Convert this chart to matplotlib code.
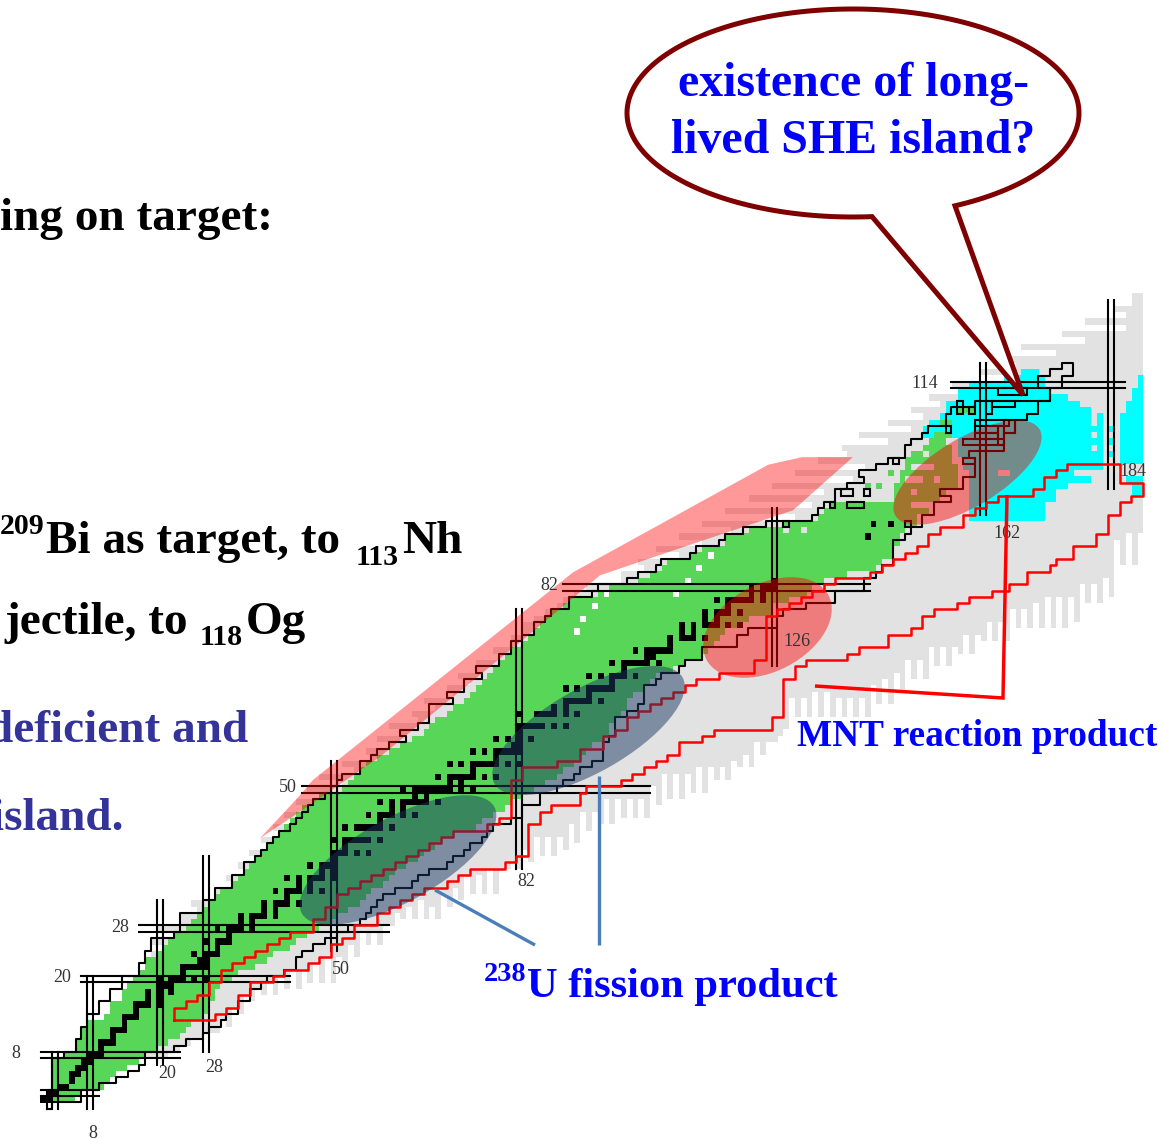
import numpy as np
import matplotlib
matplotlib.use("Agg")
import matplotlib.pyplot as plt
from matplotlib.colors import ListedColormap
from matplotlib.patches import Ellipse, Polygon, Rectangle

# ---------- nuclear chart data (N = neutrons, Z = protons) ----------
contour_left = [0.5,0.5,0.5,1.5,1.5,1.5,1.5,1.5,3.5,5.5,
 5.5,6.5,6.5,7.5,7.5,9.5,9.5,11.5,11.5,13.5,
 13.5,16.5,16.5,17.5,17.5,18.5,18.5,22.5,23.5,23.5,
 23.5,27.5,27.5,29.5,29.5,32.5,32.5,34.5,34.5,36.5,
 37.5,38.5,39.5,40.5,42.5,43.5,44.5,45.5,46.5,48.5,
 49.5,50.5,51.5,54.5,54.5,56.5,57.5,59.5,62.5,61.5,
 64.5,66.5,66.5,66.5,70.5,69.5,72.5,72.5,75.5,74.5,
 78.5,78.5,80.5,80.5,82.5,84.5,84.5,86.5,87.5,90.5,
 90.5,94.5,95.5,100.5,102.5,105.5,106.5,111.5,112.5,116.5,
 117.5,120.5,124.5,132.5,133.5,134.5,136.5,136.5,138.5,141.5,
 140.5,143.5,145.5,148.5,148.5,149.5,151.5,152.5,155.5,155.5,
 156.5,160.5,173.5,173.5,171.5,171.5,173.5,175.5]
contour_right = [1.5,6.5,6.5,9.5,12.5,14.5,16.5,17.5,17.5,22.5,
 24.5,27.5,28.5,30.5,31.5,33.5,33.5,35.5,35.5,37.5,
 38.5,41.5,43.5,43.5,44.5,46.5,48.5,50.5,52.5,54.5,
 55.5,56.5,57.5,58.5,60.5,63.5,64.5,66.5,69.5,70.5,
 72.5,73.5,75.5,76.5,77.5,80.5,82.5,82.5,85.5,85.5,
 88.5,89.5,91.5,92.5,94.5,96.5,96.5,96.5,97.5,98.5,
 98.5,98.5,100.5,102.5,103.5,103.5,103.5,105.5,106.5,109.5,
 110.5,113.5,113.5,119.5,119.5,121.5,126.5,126.5,127.5,131.5,
 136.5,136.5,141.5,141.5,143.5,144.5,146.5,146.5,146.5,146.5,
 148.5,149.5,151.5,151.5,153.5,153.5,156.5,154.5,158.5,158.5,
 160.5,160.5,160.5,159.5,165.5,165.5,165.5,167.5,167.5,169.5,
 171.5,171.5,173.5,173.5,175.5,175.5,177.5,177.5]
contour_z_start = 0

# red contour, rows Z = 14 .. 101
red_left = [22.5,22.5,24.5,26.5,28.5,28.5,30.5,30.5,32.5,34.5,
 36.5,38.5,40.5,42.5,46.5,46.5,48.5,48.5,50.5,50.5,
 52.5,54.5,56.5,58.5,60.5,62.5,64.5,66.5,68.5,70.5,
 76.5,78.5,80.5,80.5,80.5,80.5,80.5,80.5,82.5,82.5,
 88.5,92.5,92.5,96.5,96.5,98.5,100.5,100.5,102.5,104.5,
 106.5,108.5,110.5,112.5,116.5,122.5,122.5,124.5,124.5,124.5,
 124.5,124.5,124.5,124.5,126.5,128.5,130.5,132.5,134.5,136.5,
 142.5,144.5,146.5,148.5,150.5,152.5,152.5,154.5,158.5,158.5,
 160.5,162.5,164.5,170.5,172.5,172.5,174.5,176.5]
red_right = [29.5,31.5,33.5,33.5,35.5,35.5,39.5,41.5,45.5,47.5,
 49.5,49.5,51.5,53.5,53.5,57.5,57.5,59.5,61.5,63.5,
 65.5,69.5,71.5,73.5,79.5,81.5,83.5,83.5,83.5,83.5,
 83.5,85.5,85.5,87.5,92.5,92.5,93.5,99.5,101.5,103.5,
 105.5,107.5,109.5,109.5,113.5,115.5,125.5,125.5,127.5,127.5,
 127.5,127.5,127.5,127.5,129.5,129.5,131.5,138.5,140.5,145.5,
 145.5,149.5,151.5,151.5,153.5,157.5,159.5,163.5,166.5,169.5,
 169.5,173.5,174.5,177.5,177.5,181.5,181.5,183.5,183.5,183.5,
 185.5,185.5,187.5,189.5,189.5,185.5,185.5,185.5]
red_z_start = 14

# closed small loops of the black contour: N0, Z0, N1, Z1
loops_N0 = [164.5,157.5,159.5,162.5,163.5,158.5,160.5,160.5,160.5,158.5,164.5,165.5,127.5,137.5,138.5,141.5,135.5,146.5,155.5,148.5]
loops_Z0 = [112.5,109.5,109.5,109.5,110.5,104.5,107.5,106.5,105.5,101.5,104.5,106.5,91.5,96.5,94.5,96.5,94.5,101.5,106.5,91.5]
loops_N1 = [169.5,158.5,160.5,163.5,167.5,165.5,166.5,164.5,164.5,160.5,165.5,167.5,128.5,139.5,141.5,142.5,136.5,147.5,156.5,149.5]
loops_Z1 = [113.5,111.5,110.5,111.5,111.5,105.5,108.5,107.5,106.5,102.5,107.5,108.5,92.5,97.5,95.5,97.5,95.5,102.5,107.5,92.5]

# green band: first and last neutron number in rows Z = 1 .. 105
green_first = [1,1,2,2,2,2,2,4,6,6,
 7,7,8,11,12,12,14,14,15,16,
 17,18,18,20,21,22,23,25,26,27,
 28,29,30,31,33,34,35,36,37,38,
 39,40,41,42,43,44,45,47,48,52,
 53,54,55,56,58,60,62,64,66,67,
 68,70,71,73,74,75,76,77,78,79,
 80,81,83,84,85,86,87,88,90,91,
 96,98,103,105,107,108,112,114,118,118,
 122,128,134,135,136,147,147,147,148,148,
 149,149,150,152,153]
green_last = [5,6,10,11,12,14,16,17,19,21,
 23,24,25,27,28,28,29,29,30,32,
 33,36,38,39,42,43,45,47,49,50,
 52,54,55,56,58,59,60,62,64,65,
 67,68,70,74,75,77,79,80,82,84,
 86,88,89,91,92,93,94,96,97,97,
 98,99,100,100,101,103,104,105,108,110,
 113,114,115,116,117,119,121,125,125,128,
 131,132,134,138,143,144,146,146,147,147,
 148,150,150,152,153,154,155,157,157,157,
 157,156,156,156,155]
green_extra_N = [146,144,142,154,155,156,155,156,158,159,160,139,140]
green_extra_Z = [100,98,98,106,106,106,108,108,110,110,110,95,95]
green_holes_N = [150,151,152,153,149,150,151,150,150,151,152,153,97,109,95,93,92,115,113,111,131,128,152,154]
green_holes_Z = [101,101,101,101,99,99,99,97,95,95,95,95,81,81,79,77,75,87,85,83,91,91,103,99]

# cyan region: rows Z = 93 .. 116
cyan_first = [160,160,160,160,160,160,160,160,159,159,158,158,158,152,152,153,155,156,156,158,158,160,166,169]
cyan_last = [172,172,172,174,174,176,180,177,182,182,182,182,182,182,182,182,182,180,178,176,173,172,172,171]
cyan_block_first = [186,186,186,186,186,186,186,186,187,187,188,188,189,189]
cyan_block_z_start = 102
cyan_extra_N = [187,188,189,188,189,188,189,184,184,184,139]
cyan_extra_Z = [99,99,99,98,98,97,97,107,105,103,93]
gray_holes_N = [181,181,181,181,165,166]
gray_holes_Z = [109,108,106,104,100,100]

# gray nuclides: first N in rows Z = 24 .. 128; bottom Z in columns
gray_first = [19,22,19,23,20,24,24,27,26,30,
 30,33,32,35,34,37,36,39,38,41,
 40,43,42,45,44,48,46,52,48,54,
 52,57,56,60,58,62,60,65,64,68,
 66,71,70,74,72,75,75,79,78,81,
 81,83,83,85,87,89,90,92,94,100,
 100,104,103,110,106,114,110,119,114,130,
 118,133,122,135,126,140,130,142,134,139,
 138,146,141,150,146,152,150,155,153,165,
 157,168,162,168,165,175,169,180,176,187,
 180,187,185,188,188]
gray_bottom_even_N = [32,34,36,38,40,42,44,46,48,50,52,54,56,58,60,62,64,66,68,70,72,74,76,78,80,82,84,86,88,90,92,94,96,98,100,102,104,106,108,110,112,114,116,118,120,122,124,126,128,130,132,134,136,138,140,142,144,146,148,150,152,154,156,158,160,162,164,166,168,170,172,174,176,178,180,182,184,186,188]
gray_bottom_even_Z = [13,15,17,18,18,19,19,20,20,20,23,24,26,26,29,30,30,30,30,32,33,34,34,34,38,38,39,40,40,41,42,44,45,45,46,46,46,48,49,49,50,50,52,52,54,54,56,58,60,62,62,62,62,62,62,62,64,64,66,68,68,70,70,72,72,74,74,74,76,76,76,76,76,77,80,80,81,86,86]
gray_bottom_odd_N = [31,33,35,37,39,41,43,45,47,49,51,53,55,57,59,61,63,65,67,69,71,73,75,77,79,81,83,85,87,89,91,93,95,97,99,101,103,105,107,109,111,113,115,117,119,121,123,125,127,129,131,133,135,137,139,141,143,145,147,149,151,153,155,157,159,161,163,165,167,169,171,173,175,177,179,181,183,185,187,189]
gray_bottom_odd_Z = [14,16,18,19,20,21,22,22,23,24,24,26,28,28,29,31,32,33,32,34,35,37,37,38,38,39,41,43,43,43,45,47,47,49,49,49,49,51,53,53,53,54,54,54,55,56,58,58,59,65,65,66,66,65,65,65,67,68,69,71,71,73,73,73,75,75,77,77,79,79,80,81,81,81,83,83,84,90,91,91]
gray_low_N = [18,19,20,21,22,23,24,25,26,27,28,29,30]
gray_low_Z = [8,8,8,8,9,9,10,10,11,11,12,12,12]

# stable nuclides: Z -> neutron numbers
stable_Z1_to_30 = {1:[0,1],2:[1,2],3:[3,4],4:[5],5:[5,6],6:[6,7],7:[7,8],8:[8,9,10],9:[10],10:[10,11,12],
 11:[12],12:[12,13,14],13:[14],14:[14,15,16],15:[16],16:[16,17,18,20],17:[18,20],18:[18,20,22],19:[20,21,22],
 20:[20,22,23,24,26,28],21:[24],22:[24,25,26,27,28],23:[27,28],24:[26,28,29,30],25:[30],26:[28,30,31,32],27:[32],
 28:[30,32,33,34,36],29:[34,36],30:[34,36,37,38,40]}
stable_Z31_to_60 = {31:[38,40],32:[38,40,41,42,44],33:[42],34:[40,42,43,44,46,48],35:[44,46],36:[42,44,46,47,48,50],
 37:[48,50],38:[46,48,49,50],39:[50],40:[50,51,52,54,56],41:[52],42:[50,52,53,54,55,56,58],44:[52,54,55,56,57,58,60],
 45:[58],46:[56,58,59,60,62,64],47:[60,62],48:[58,60,62,63,64,65,66,68],49:[64,66],
 50:[62,64,65,66,67,68,69,70,72,74],51:[70,72],52:[68,70,71,72,73,74,76,78],53:[74],
 54:[70,72,74,75,76,77,78,80,82],55:[78],56:[74,76,78,79,80,81,82],57:[81,82],58:[78,80,82,84],59:[82],
 60:[82,83,84,85,86,88,90]}
stable_Z62_to_92 = {62:[82,85,86,87,88,90,92],63:[88,90],64:[90,91,92,93,94,96],65:[94],66:[90,92,94,95,96,97,98],
 67:[98],68:[94,96,98,99,100,102],69:[100],70:[98,100,101,102,103,104,106],71:[104,105],72:[102,104,105,106,107,108],
 73:[108],74:[108,110,111,112,114],75:[110,112],76:[110,112,114,115,116,118,120],77:[114,116],
 78:[114,116,117,118,120],79:[118],80:[116,118,119,120,121,122,124],81:[122,124],82:[122,124,125,126],83:[126],
 90:[142],92:[143,146]}

# magic numbers: value, first and last coordinate of the double line
magic_N = [2,8,20,28,50,82,126,162,184]
magic_N_from = [-0.5,-0.5,6.5,8.5,24.5,37.5,69.5,93.5,97.5]
magic_N_to = [8.5,20.5,32.5,39.5,54.5,78.5,94.5,117.5,127.5]
magic_Z = [2,8,20,28,50,82,114]
magic_Z_from = [-0.5,-0.5,6.5,16.5,44.5,89.5,156.5]
magic_Z_to = [9.5,23.5,42.5,59.5,104.5,142.5,186.5]

shell_band_N = [37.3,44.2,46.4,91.3,124.9,130.7,139.5,129.2,109.7,95.9,90.2,83,58,44.2]
shell_band_Z = [42.3,49.1,51.5,84.4,101.4,102.6,102.6,94.2,88.2,83.9,79.5,74,55.2,46.5]

# labels of the magic numbers
z_labels = ["8","20","28","50","82","114"]
n_labels = ["8","20","28","50","82","126","162","184"]

# ---------- mask ----------
GREY, CYAN, GREEN, BLACK = 1, 2, 3, 4
grid = np.zeros((135, 195), dtype=int)     # Z from -3, N from -3
def put(N, Z, v):
    if 0 <= Z + 3 < grid.shape[0] and 0 <= N + 3 < grid.shape[1]:
        grid[Z + 3, N + 3] = v

bottoms = {}
for n, z in list(zip(gray_bottom_even_N, gray_bottom_even_Z)) + list(zip(gray_bottom_odd_N, gray_bottom_odd_Z)) + list(zip(gray_low_N, gray_low_Z)):
    bottoms[n] = z
for i, first in enumerate(gray_first):
    z = 24 + i
    for n in range(first, 190):
        if n in bottoms and z >= bottoms[n]:
            put(n, z, GREY)
for n, zb in bottoms.items():
    for z in range(zb, 24):
        put(n, z, GREY)
for i, (a, b) in enumerate(zip(cyan_first, cyan_last)):
    for n in range(a, b + 1):
        put(n, 93 + i, CYAN)
for i, a in enumerate(cyan_block_first):
    for n in range(a, 190):
        put(n, cyan_block_z_start + i, CYAN)
for n, z in zip(cyan_extra_N, cyan_extra_Z):
    put(n, z, CYAN)
for n, z in zip(gray_holes_N, gray_holes_Z):
    put(n, z, GREY)
for i, (a, b) in enumerate(zip(green_first, green_last)):
    for n in range(a, b + 1):
        put(n, 1 + i, GREEN)
for n, z in zip(green_extra_N, green_extra_Z):
    put(n, z, GREEN)
for n, z in zip(green_holes_N, green_holes_Z):
    put(n, z, GREY if n > 120 else 0)
for d in (stable_Z1_to_30, stable_Z31_to_60, stable_Z62_to_92):
    for z, ns in d.items():
        for n in ns:
            put(n, z, BLACK)

def stairs(left, right, z0):
    xs, ys = [], []
    for i, v in enumerate(left):
        xs += [v, v]; ys += [z0 + i - .5, z0 + i + .5]
    for i in range(len(right) - 1, -1, -1):
        xs += [right[i], right[i]]; ys += [z0 + i + .5, z0 + i - .5]
    xs.append(left[0]); ys.append(z0 - .5)
    return xs, ys

# ---------- figure ----------
W, H = 1163, 1139
fig = plt.figure(figsize=(W / 100, H / 100), dpi=100)
ax = fig.add_axes([0, 0, 1, 1])
ax.axis("off")
cmap = ListedColormap(["#FFFFFF", "#E2E2E2", "#00FFFF", "#57D657", "#000000"])
ax.imshow(grid, origin="lower", extent=(-3.5, 191.5, -3.5, 131.5), cmap=cmap, vmin=0, vmax=4,
          interpolation="nearest", aspect="auto", zorder=1)
ax.set_xlim((0 - 43.6) / 5.801, (W - 43.6) / 5.801)
ax.set_ylim((1105.6 - H) / 6.32, 1105.6 / 6.32)

LW = 1.5
x, y = stairs(contour_left, contour_right, contour_z_start)
ax.plot(x, y, color="black", lw=LW, zorder=3, solid_joinstyle="round")
for a, b, c, d in zip(loops_N0, loops_Z0, loops_N1, loops_Z1):
    ax.add_patch(Rectangle((a, b), c - a, d - b, fill=False, ec="black", lw=LW, zorder=3))
for m, a, b in zip(magic_N, magic_N_from, magic_N_to):
    ax.plot([m - .5, m - .5], [a, b], color="black", lw=LW, zorder=3)
    ax.plot([m + .5, m + .5], [a, b], color="black", lw=LW, zorder=3)
for m, a, b in zip(magic_Z, magic_Z_from, magic_Z_to):
    ax.plot([a, b], [m - .5, m - .5], color="black", lw=LW, zorder=3)
    ax.plot([a, b], [m + .5, m + .5], color="black", lw=LW, zorder=3)
x, y = stairs(red_left, red_right, red_z_start)
ax.plot(x, y, color="#FF0000", lw=1.8, zorder=4, solid_joinstyle="round")
ax.add_patch(Polygon(np.column_stack([shell_band_N, shell_band_Z]), closed=True, fc=(1, 0, 0, .4), ec="none", zorder=5))

# overlay in picture coordinates: ellipses, callout, leaders, text
ov = fig.add_axes([0, 0, 1, 1])
ov.set_xlim(0, W); ov.set_ylim(H, 0); ov.axis("off"); ov.patch.set_alpha(0)
for (cx, cy, a, b, ang) in [(398, 860, 110, 42, -29), (588.5, 730.5, 108, 42, -29.5)]:
    ov.add_patch(Ellipse((cx, cy), 2 * a, 2 * b, angle=ang, fc=(28 / 255, 57 / 255, 97 / 255, .5), ec="none", zorder=2))
for (cx, cy, a, b, ang) in [(767.5, 627.5, 69, 43.6, -28), (967.5, 472.5, 84, 34, -31)]:
    ov.add_patch(Ellipse((cx, cy), 2 * a, 2 * b, angle=ang, fc=(1, 0, 0, .45), ec="none", zorder=2))

serif = "Liberation Serif"
num = dict(family=serif, fontsize=13, color="#333333", ha="center", va="center", zorder=6)
for s, (px, py) in zip(z_labels, [(16, 1053), (62, 977), (120, 927), (288, 788), (549, 585), (925, 383)]):
    ov.text(px, py, s, **num)
for s, (px, py) in zip(n_labels, [(93, 1133), (167, 1074), (214, 1068), (341, 970), (526, 882), (797, 642), (1007, 534), (1133, 472)]):
    ov.text(px, py, s, **num)

ov.plot([435, 535], [890, 945], color="#4A7EBB", lw=2.4, zorder=6, solid_capstyle="butt")
ov.plot([599, 599], [776, 945], color="#4A7EBB", lw=2.4, zorder=6, solid_capstyle="butt")
ov.plot([815, 1003, 1007], [686, 698, 495], color="#FF0000", lw=2.5, zorder=6, solid_joinstyle="miter", solid_capstyle="butt")

t = np.linspace(np.arccos(102 / 226), np.arccos(19 / 226) - 2 * np.pi, 200)
ex = 853 + 226 * np.cos(t); ey = 113 + 104 * np.sin(t)
ov.add_patch(Polygon(np.column_stack([np.r_[ex, 1023], np.r_[ey, 395]]), closed=True, fc="white", ec="#7F0000",
                     lw=3.6, joinstyle="miter", zorder=7))

def T(x, y, s, size=31, color="black", ha="left"):
    ov.text(x, y, s, family=serif, weight="bold", fontsize=size, color=color, ha=ha, va="baseline", zorder=8, clip_on=True)

B = 34
T(273, 230, "ing on target:", B, ha="right")
T(0, 534, "209", 21.5)
T(340, 553, "Bi as target, to", B, ha="right")
T(356, 565, "113", 21.5)
T(402, 553, "Nh", B)
T(188, 634, "jectile, to", B, ha="right")
T(200, 645, "118", 21.5)
T(246, 634, "Og", B)
T(248, 742, "deficient and", B, "#333399", "right")
T(123, 830, "island.", B, "#333399", "right")
T(853, 96, "existence of long-", 34.5, "#0000FF", "center")
T(853, 153, "lived SHE island?", 34.5, "#0000FF", "center")
T(797, 746, "MNT reaction product", 26.8, "#0000FF")
T(484, 981, "238", 20.4, "#0000FF")
T(527, 997, "U fission product", 30.6, "#0000FF")

fig.savefig("out.png", dpi=100)
